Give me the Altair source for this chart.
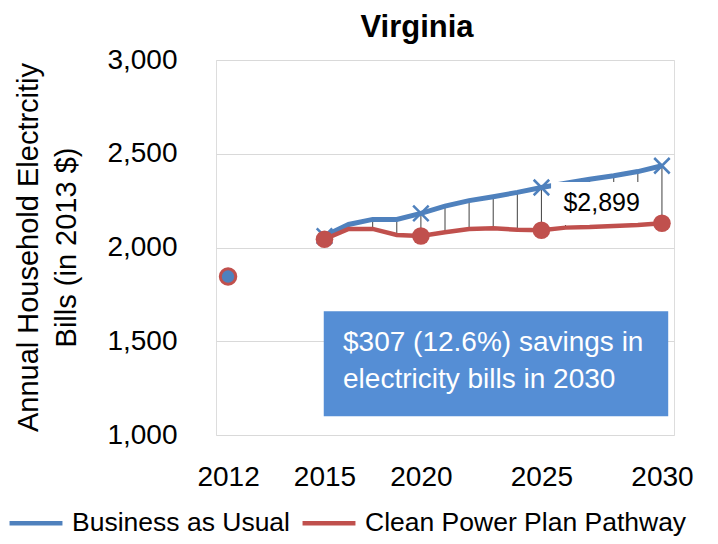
import altair as alt
import pandas as pd

# ---- data ----
tick_slots = [0, 4, 8, 13, 18]
tick_labels = ["2012", "2015", "2020", "2025", "2030"]

slots = [4, 5, 6, 7, 8, 9, 10, 11, 12, 13, 14, 15, 16, 17, 18]
bau = [2061, 2123, 2150, 2150, 2182, 2221, 2250, 2271, 2294, 2320, 2343, 2364, 2383, 2405, 2436]
cpp = [2044, 2099, 2099, 2067, 2061, 2081, 2099, 2102, 2095, 2092, 2106, 2109, 2115, 2120, 2129]

base_slot = [0]
base_value = [1845]

y_ticks = [1000, 1500, 2000, 2500, 3000]

series_names = ["Business as Usual", "Clean Power Plan Pathway"]

title_text = ["Virginia"]
callout_text = ["$2,899"]
box_text = ["$307 (12.6%) savings in", "electricity bills in 2030"]

BLUE = "#4F81BD"
RED = "#C0504D"
BOXBLUE = "#558ED5"
FONT = "Liberation Sans"

wide = pd.DataFrame({"slot": slots, "bau": bau, "cpp": cpp})
bau_df = pd.DataFrame({"slot": slots, "value": bau, "series": series_names[0]})
cpp_df = pd.DataFrame({"slot": slots, "value": cpp, "series": series_names[1]})
bau_mk = bau_df[bau_df["slot"].isin(tick_slots)]
cpp_mk = cpp_df[cpp_df["slot"].isin(tick_slots)]
base_df = pd.DataFrame({"slot": base_slot, "value": base_value})
title_df = pd.DataFrame({"slot": [7.84], "value": [3123], "text": title_text})
callout_df = pd.DataFrame({"slot": [15.5], "value": [2237], "text": callout_text})
mask_df = pd.DataFrame({"slot": [13.4], "x2": [17.6], "value": [2120], "y2": [2350]})
box_df = pd.DataFrame({"slot": [3.97], "x2": [18.26], "value": [1100], "y2": [1660]})
box_txt_df = pd.DataFrame({"slot": [4.77], "value": [1491], "text": ["\n".join(box_text)]})

label_expr = ""
for s, l in zip(tick_slots, tick_labels):
    label_expr += f"datum.value == {s} ? '{l}' : "
label_expr += "''"

xscale = alt.Scale(domain=[-0.5, 18.5], nice=False, zero=False)
yscale = alt.Scale(domain=[1000, 3000], nice=False, zero=False)

xaxis = alt.Axis(values=tick_slots, labelExpr=label_expr, title=None, grid=False,
                 ticks=False, tickSize=0, domain=False, labelFontSize=28,
                 labelPadding=28, labelColor="black", labelFont=FONT)
yaxis = alt.Axis(values=y_ticks, labelExpr="format(datum.value, ',.0f')",
                 title=["Annual Household Electrcitiy", "Bills (in 2013 $)"],
                 titleFontSize=29, titleFontWeight="normal", titleColor="black",
                 titleFont=FONT, titleLineHeight=38, titleAngle=-90,
                 titleBaseline="middle", titleAlign="center",
                 titleX=-188, titleY=187,
                 ticks=False, tickSize=0, domain=False, labelFontSize=28,
                 labelPadding=39, labelColor="black", labelFont=FONT,
                 grid=True, gridColor="#D9D9D9", gridWidth=1)

color = alt.Color("series:N",
                  scale=alt.Scale(domain=series_names, range=[BLUE, RED]),
                  legend=alt.Legend(title=None, orient="none", direction="horizontal",
                                    legendX=-209, legendY=434,
                                    symbolType="stroke", symbolSize=2800,
                                    symbolStrokeWidth=4.5, labelFontSize=26.5,
                                    labelFont=FONT, labelColor="black",
                                    labelLimit=0, labelOffset=7, columnPadding=3))

X = alt.X("slot:Q", scale=xscale, axis=xaxis)
Y = alt.Y("value:Q", scale=yscale, axis=yaxis)

drops = alt.Chart(wide).mark_rule(color="#404040", strokeWidth=1).encode(
    x=X, y=alt.Y("bau:Q", scale=yscale, axis=yaxis), y2="cpp:Q")

bau_line = alt.Chart(bau_df).mark_line(strokeWidth=5).encode(x=X, y=Y, color=color)
bau_pts = alt.Chart(bau_mk).mark_point(shape="M-1,-1L1,1M-1,1L1,-1", size=240,
                                       strokeWidth=2.5, filled=False, color=BLUE,
                                       opacity=1).encode(x=X, y=Y)
mask = alt.Chart(mask_df).mark_rect(color="white").encode(
    x=X, x2="x2:Q", y=Y, y2="y2:Q")
cpp_line = alt.Chart(cpp_df).mark_line(strokeWidth=4.5).encode(x=X, y=Y, color=color)
cpp_pts = alt.Chart(cpp_mk).mark_circle(size=310, color=RED, opacity=1).encode(x=X, y=Y)
base_pt = alt.Chart(base_df).mark_point(shape="circle", size=240, filled=True,
                                        fill=BLUE, stroke=RED, strokeWidth=3,
                                        opacity=1).encode(x=X, y=Y)
callout = alt.Chart(callout_df).mark_text(fontSize=25, font=FONT, color="black",
                                          align="center", baseline="middle").encode(
    x=X, y=Y, text="text:N")
box = alt.Chart(box_df).mark_rect(color=BOXBLUE).encode(
    x=X, x2="x2:Q", y=Y, y2="y2:Q")
box_txt = alt.Chart(box_txt_df).mark_text(fontSize=28, font=FONT, color="white",
                                          align="left", baseline="middle",
                                          lineBreak="\n", lineHeight=37).encode(
    x=X, y=Y, text="text:N")
title = alt.Chart(title_df).mark_text(fontSize=31, fontWeight="bold", font=FONT,
                                      color="black", align="center",
                                      baseline="alphabetic").encode(
    x=X, y=Y, text="text:N")

chart = alt.layer(drops, bau_line, bau_pts, mask, cpp_line, cpp_pts, base_pt,
                  callout, box, box_txt, title).properties(
    width=458, height=375,
    autosize=alt.AutoSizeParams(type="none"),
    padding={"left": 208, "top": 52, "right": 36, "bottom": 101},
).configure_view(stroke="#D9D9D9", strokeWidth=1).configure(background="white")

chart.save("out.html", embed_options={"renderer": "svg", "actions": False})
